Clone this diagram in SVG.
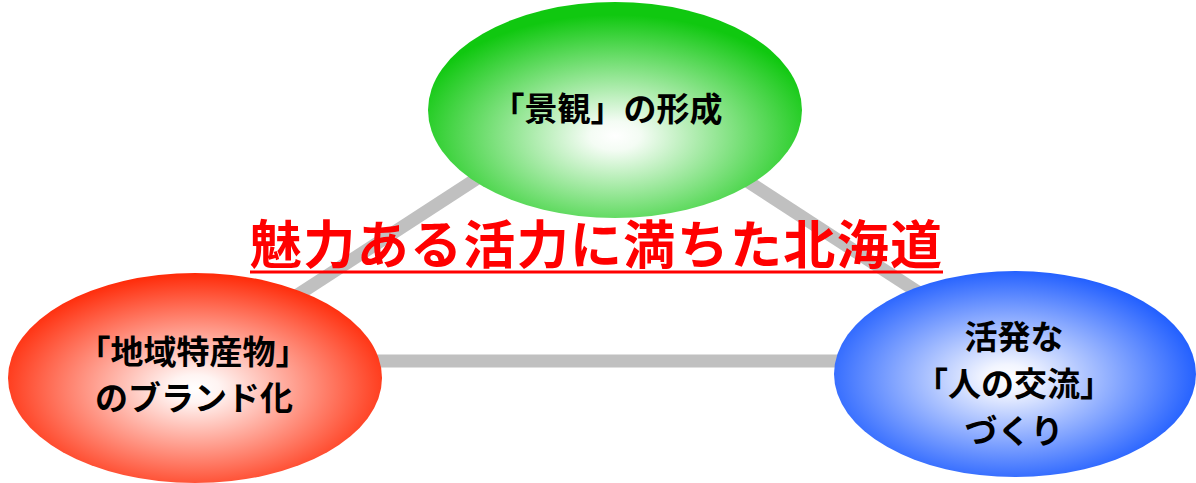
<svg xmlns="http://www.w3.org/2000/svg" width="1196" height="483" viewBox="0 0 1196 483">
<defs>
<radialGradient id="gGreen" cx="50%" cy="62%" r="56%">
<stop offset="0" stop-color="#ffffff"/>
<stop offset="0.12" stop-color="#f4fcf4"/>
<stop offset="1" stop-color="#10c810"/>
</radialGradient>
<radialGradient id="gRed" cx="50%" cy="55%" r="55%">
<stop offset="0" stop-color="#ffffff"/>
<stop offset="0.12" stop-color="#fff4f2"/>
<stop offset="1" stop-color="#ff2a08"/>
</radialGradient>
<radialGradient id="gBlue" cx="48%" cy="52%" r="55%">
<stop offset="0" stop-color="#ffffff"/>
<stop offset="0.12" stop-color="#f2f5ff"/>
<stop offset="1" stop-color="#1858ff"/>
</radialGradient>
<style>
.conn{stroke:#c0c0c0;stroke-width:13;fill:none;stroke-linecap:butt}
.lbl{font-family:"Noto Sans CJK JP","Noto Sans CJK SC",sans-serif;font-weight:bold;font-size:33px;fill:#000;text-anchor:middle}
.title{font-family:"Noto Sans CJK JP","Noto Sans CJK SC",sans-serif;font-weight:bold;font-size:52px;fill:#ff0000}
</style>
</defs>
<rect width="1196" height="483" fill="#ffffff"/>
<g id="connectors">
<line class="conn" x1="196" y1="361" x2="610" y2="92"/>
<line class="conn" x1="610" y1="92" x2="1024" y2="361"/>
<line class="conn" x1="196" y1="361" x2="1024" y2="361"/>
</g>
<g id="node-landscape">
<ellipse cx="615" cy="110" rx="187" ry="108" fill="url(#gGreen)"/>
<text class="lbl" x="607" y="121">「景観」の形成</text>
</g>
<g id="node-brand">
<ellipse cx="195" cy="378" rx="187" ry="105" fill="url(#gRed)"/>
<text class="lbl" x="193" y="364">「地域特産物」</text>
<text class="lbl" x="194" y="410">のブランド化</text>
</g>
<g id="node-exchange">
<ellipse cx="1015" cy="374" rx="181" ry="103" fill="url(#gBlue)"/>
<text class="lbl" x="1014" y="349">活発な</text>
<text class="lbl" x="1014" y="396">「人の交流」</text>
<text class="lbl" x="1014" y="443">づくり</text>
</g>
<g id="title">
<text class="title" x="250" y="264" textLength="692">魅力ある活力に満ちた北海道</text>
<line x1="250" y1="272" x2="943" y2="272" stroke="#ff0000" stroke-width="3"/>
</g>
</svg>
